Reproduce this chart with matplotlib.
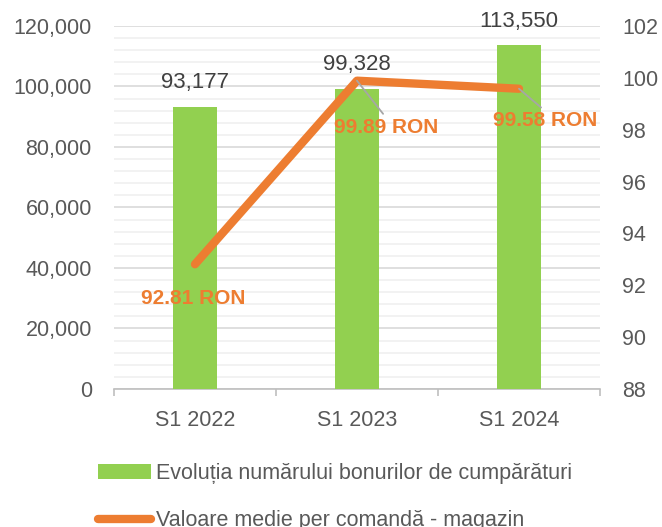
import numpy as np
import matplotlib.pyplot as plt
from matplotlib.ticker import MultipleLocator, FuncFormatter, FixedLocator
from matplotlib.lines import Line2D
from matplotlib.patches import Patch

plt.rcParams['font.family'] = ['Liberation Sans', 'DejaVu Sans']

categories = ['S1 2022', 'S1 2023', 'S1 2024']
bonuri = [93177, 99328, 113550]
valoare_medie = [92.81, 99.89, 99.58]
bar_label = 'Evoluția numărului bonurilor de cumpărături'
line_label = 'Valoare medie per comandă - magazin'

green = '#92D050'
orange = '#ED7D31'
grey_txt = '#595959'
fs = 15.5

fig = plt.figure(figsize=(6.62, 5.27), dpi=100)
ax = fig.add_axes([0.1722, 0.2619, 0.7341, 0.6888])
x = np.arange(len(categories))

ax.bar(x, bonuri, width=0.27, color=green, zorder=3)
ax.set_xlim(-0.5, 2.5)
ax.set_ylim(0, 120000)
ax.yaxis.set_major_locator(MultipleLocator(20000))
ax.yaxis.set_minor_locator(MultipleLocator(4000))
ax.yaxis.set_major_formatter(FuncFormatter(lambda v, p: f'{int(v):,}'))
ax.grid(axis='y', which='major', color='#D9D9D9', lw=1.2, zorder=0)
ax.grid(axis='y', which='minor', color='#F0F0F0', lw=1.2, zorder=0)
ax.tick_params(axis='y', which='both', length=0, labelsize=fs, labelcolor=grey_txt, pad=16)

ax.set_xticks(x)
ax.set_xticklabels(categories)
ax.xaxis.set_minor_locator(FixedLocator([-0.5, 0.5, 1.5, 2.5]))
ax.tick_params(axis='x', which='major', length=0, labelsize=fs, labelcolor=grey_txt, pad=15)
ax.tick_params(axis='x', which='minor', length=5, color='#BFBFBF', width=1.2)
for s in ['top', 'left', 'right']:
    ax.spines[s].set_visible(False)
ax.spines['bottom'].set_color('#BFBFBF')
ax.spines['bottom'].set_linewidth(1.2)

for xi, v in zip(x, bonuri):
    ax.annotate(f'{v:,}', (xi, v), xytext=(0, 10), textcoords='offset points',
                ha='center', va='bottom', fontsize=16, color='#404040')

ax2 = ax.twinx()
ax2.plot(x, valoare_medie, color=orange, lw=6, solid_capstyle='round', zorder=4)
ax2.set_ylim(88, 102)
ax2.yaxis.set_major_locator(MultipleLocator(2))
ax2.tick_params(axis='y', length=0, labelsize=fs, labelcolor=grey_txt, pad=16)
for s in ax2.spines.values():
    s.set_visible(False)

# label offsets (points) for line values
offsets = [(-1, -24.5), (21, -33.5), (19, -23)]
leaders = [False, True, True]
for xi, v, off, lead in zip(x, valoare_medie, offsets, leaders):
    kw = {}
    if lead:
        kw['arrowprops'] = dict(arrowstyle='-', color='#A6A6A6', lw=1.3,
                                shrinkA=1, shrinkB=0, relpos=(0.5, 1.0))
    ax2.annotate(f'{v:.2f} RON', (xi, v), xytext=off, textcoords='offset points',
                 ha='center', va='center', fontsize=15, fontweight='bold',
                 color=orange, zorder=5, **kw)

handles = [Patch(facecolor=green, edgecolor='none'),
           Line2D([0], [0], color=orange, lw=6, solid_capstyle='round')]
fig.legend(handles, [bar_label, line_label], loc='upper left',
           bbox_to_anchor=(0.148, 0.121), frameon=False, fontsize=fs,
           labelcolor=grey_txt, handlelength=2.45, handletextpad=0.25,
           labelspacing=1.2, borderpad=0, borderaxespad=0)

fig.savefig('out.png', dpi=100)
